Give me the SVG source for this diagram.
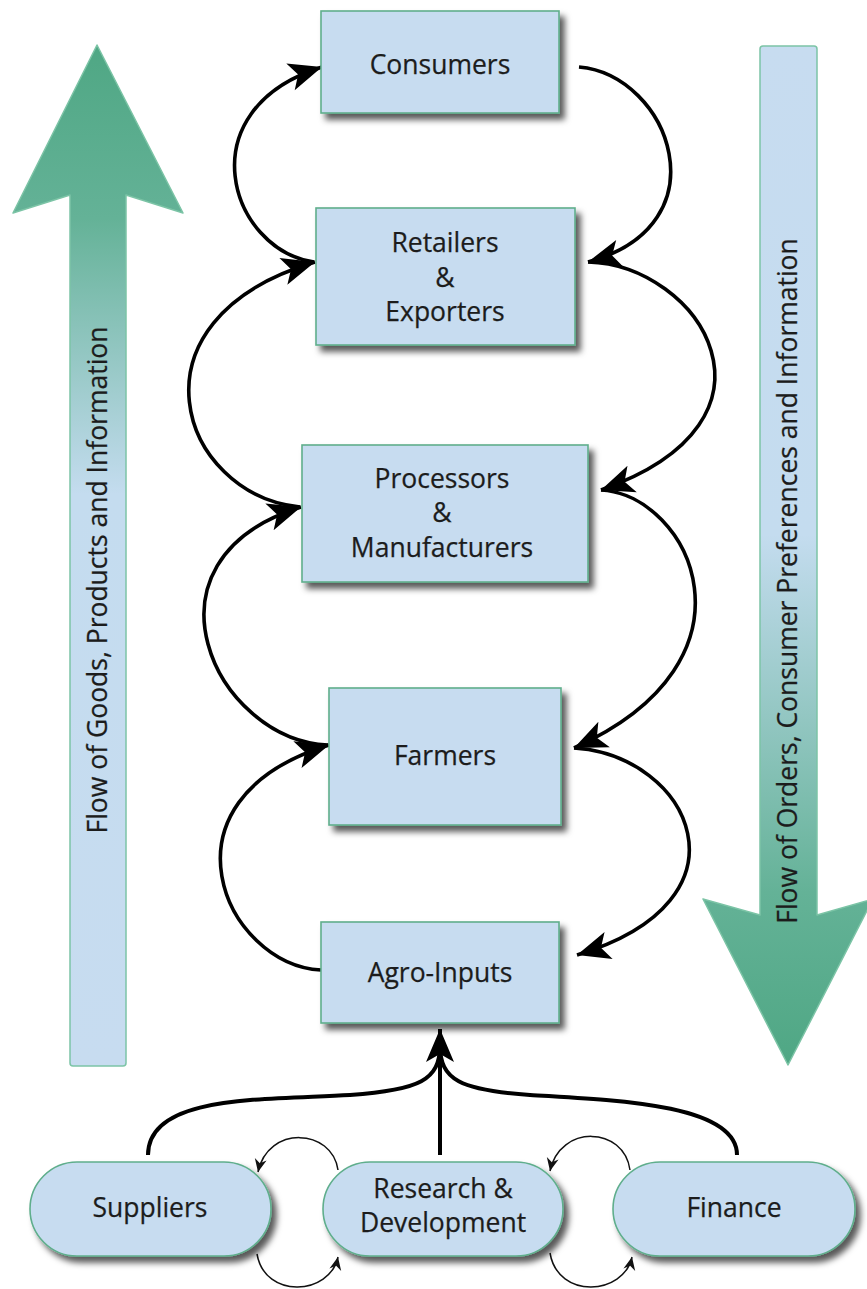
<svg xmlns="http://www.w3.org/2000/svg" width="867" height="1289" viewBox="0 0 867 1289">
<defs>
<style>
.box{fill:#c7dcf0;stroke:#5fae8c;stroke-width:1.6;filter:url(#sh)}
.t{font-family:"Open Sans","Liberation Sans",sans-serif;font-size:26.5px;fill:#1c1c1c;text-anchor:middle;stroke:#1c1c1c;stroke-width:0.25}
.big{fill:none;stroke:#000;stroke-width:3.6;marker-end:url(#ah)}
.thick{fill:none;stroke:#000;stroke-width:4}
.thin{fill:none;stroke:#111;stroke-width:1.5;marker-end:url(#as)}
</style>
<filter id="sh" x="-10%" y="-10%" width="130%" height="140%">
<feDropShadow dx="5" dy="6" stdDeviation="3" flood-color="#000" flood-opacity="0.65"/>
</filter>
<marker id="ah" markerUnits="userSpaceOnUse" viewBox="-36 -16 38 32" refX="0" refY="0" markerWidth="38" markerHeight="32" orient="auto">
<path d="M0,0 L-33,-14 L-25,0 L-33,14 Z" fill="#000"/>
</marker>
<marker id="as" markerUnits="userSpaceOnUse" viewBox="-14 -7 15 14" refX="0" refY="0" markerWidth="15" markerHeight="14" orient="auto">
<path d="M0,0 L-13,-6 L-9,0 L-13,6 Z" fill="#111"/>
</marker>
<linearGradient id="gUp" gradientUnits="userSpaceOnUse" x1="0" y1="45" x2="0" y2="1065">
<stop offset="0" stop-color="#4fa784"/>
<stop offset="0.17" stop-color="#64b297"/>
<stop offset="0.44" stop-color="#c4dcef"/>
<stop offset="1" stop-color="#c7dcf0"/>
</linearGradient>
<linearGradient id="gDown" gradientUnits="userSpaceOnUse" x1="0" y1="45" x2="0" y2="1065">
<stop offset="0" stop-color="#c7dcf0"/>
<stop offset="0.48" stop-color="#c4dcef"/>
<stop offset="0.83" stop-color="#64b297"/>
<stop offset="1" stop-color="#4fa784"/>
</linearGradient>
</defs>

<g id="flow-goods">
<path d="M97,45 L183,213 L126,195 L126,1063 Q126,1066 123,1066 L73,1066 Q70,1066 70,1063 L70,195 L13,213 Z" fill="url(#gUp)" stroke="#7cc4a6" stroke-width="1.5" stroke-linejoin="round"/>
<text class="t" transform="translate(107,580) rotate(-90)">Flow of Goods, Products and Information</text>
</g>

<g id="flow-orders">
<path d="M763,46 L814,46 Q817,46 817,49 L817,915 L873,899 L788,1065 L703,899 L760,915 L760,49 Q760,46 763,46 Z" fill="url(#gDown)" stroke="#7cc4a6" stroke-width="1.5" stroke-linejoin="round"/>
<text class="t" transform="translate(797,581) rotate(-90)">Flow of Orders, Consumer Preferences and Information</text>
</g>

<g id="connectors">
<path class="big" d="M579,67 C670,75 725,225 588,262"/>
<path class="big" d="M314,262 C230,250 185,110 322,67"/>
<path class="big" d="M588,262 C700,265 800,420 601,490"/>
<path class="big" d="M300,507 C180,495 120,320 315,262"/>
<path class="big" d="M601,490 C690,495 770,660 574,748"/>
<path class="big" d="M328,745 C215,740 130,560 301,507"/>
<path class="big" d="M574,748 C690,755 760,900 577,955"/>
<path class="big" d="M321,970 C225,965 150,800 329,745"/>
<path class="thick" d="M148,1155 C148,1095 260,1100 350,1095 C420,1090 440,1080 440,1045"/>
<path class="thick" d="M737,1155 C737,1105 620,1100 530,1095 C460,1090 440,1080 440,1045"/>
<path class="big" style="stroke-width:4" d="M440,1155 L440,1029"/>
<path class="thin" d="M338,1170 C332,1128 268,1125 258,1172"/>
<path class="thin" d="M257,1254 C265,1300 330,1295 338,1257"/>
<path class="thin" d="M630,1170 C624,1126 560,1124 550,1171"/>
<path class="thin" d="M550,1253 C558,1300 624,1295 632,1257"/>
</g>

<g id="consumers">
<rect class="box" x="321" y="11" width="238" height="102"/>
<text class="t" x="440" y="74">Consumers</text>
</g>
<g id="retailers">
<rect class="box" x="316" y="208" width="259" height="137"/>
<text class="t" x="445" y="252">Retailers</text>
<text class="t" x="445" y="287">&amp;</text>
<text class="t" x="445" y="321">Exporters</text>
</g>
<g id="processors">
<rect class="box" x="302" y="445" width="286" height="137"/>
<text class="t" x="442" y="488">Processors</text>
<text class="t" x="442" y="522">&amp;</text>
<text class="t" x="442" y="557">Manufacturers</text>
</g>
<g id="farmers">
<rect class="box" x="329" y="688" width="232" height="137"/>
<text class="t" x="445" y="765">Farmers</text>
</g>
<g id="agro-inputs">
<rect class="box" x="321" y="922" width="238" height="101"/>
<text class="t" x="440" y="982">Agro-Inputs</text>
</g>
<g id="suppliers">
<rect class="box" x="30" y="1162" width="241" height="94" rx="47"/>
<text class="t" x="150" y="1217">Suppliers</text>
</g>
<g id="research">
<rect class="box" x="323" y="1162" width="240" height="94" rx="47"/>
<text class="t" x="443" y="1198">Research &amp;</text>
<text class="t" x="443" y="1232">Development</text>
</g>
<g id="finance">
<rect class="box" x="613" y="1162" width="242" height="94" rx="47"/>
<text class="t" x="734" y="1217">Finance</text>
</g>
</svg>
